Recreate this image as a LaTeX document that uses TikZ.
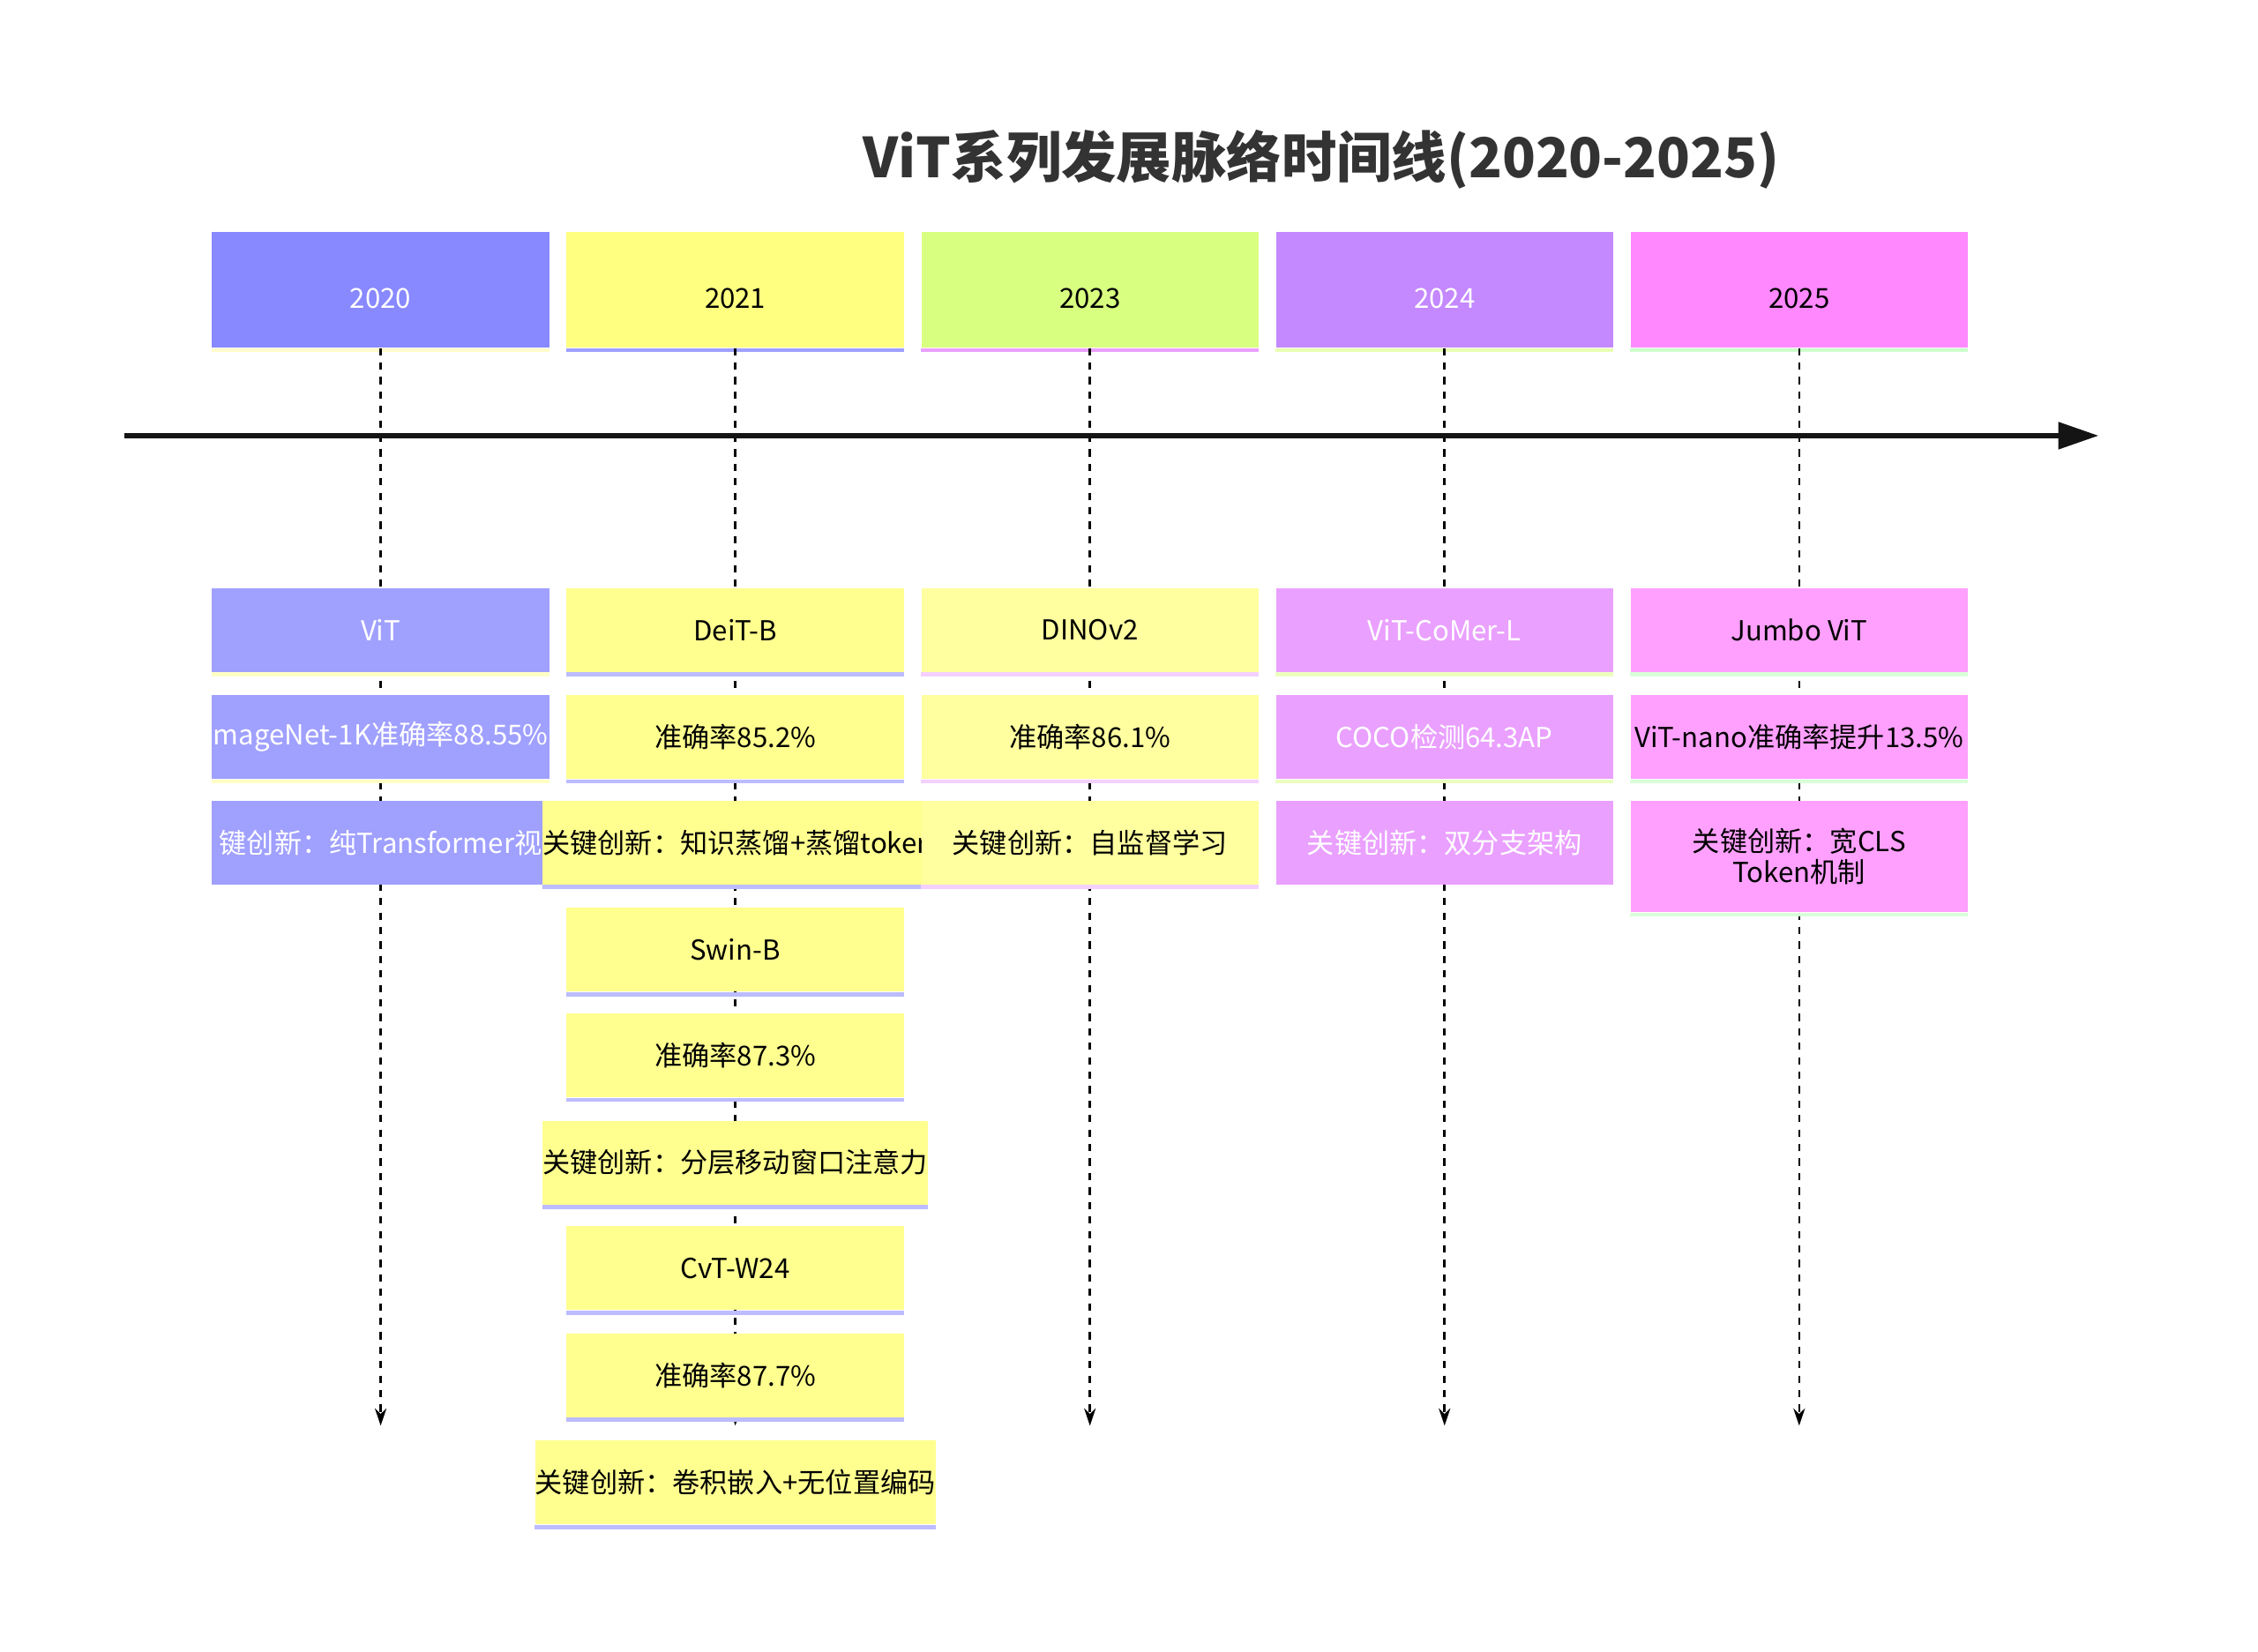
\documentclass[tikz,border=0pt]{standalone}
\usepackage{fontspec}
\setmainfont{Noto Sans CJK SC}
\usetikzlibrary{arrows.meta,positioning}
\definecolor{yrA}{HTML}{8888FF}
\definecolor{yrB}{HTML}{FFFF80}
\definecolor{yrC}{HTML}{D9FF80}
\definecolor{yrD}{HTML}{C488FF}
\definecolor{yrE}{HTML}{FF88FF}
\definecolor{evA}{HTML}{A0A0FF}
\definecolor{evB}{HTML}{FFFF90}
\definecolor{evC}{HTML}{FFFFA0}
\definecolor{evD}{HTML}{EAA0FF}
\definecolor{evE}{HTML}{FFA0FF}
\definecolor{title}{HTML}{333333}
\tikzset{
  yearbox/.style={fill=#1,minimum width=233pt,minimum height=80pt,inner sep=0pt,
    font=\fontsize{19}{22}\selectfont,anchor=north,text depth=0pt},
  evbox/.style={fill=#1,minimum width=233pt,minimum height=58pt,inner sep=0pt,
    font=\fontsize{19}{22}\selectfont,anchor=north,align=center},
  timeline/.style={dashed,line width=1.6pt,dash pattern=on 5pt off 5pt,-{Stealth[length=12pt,width=8pt]}},
}
\newcommand{\stripe}[2]{\fill[#2] (#1.south west) rectangle ([yshift=-3pt]#1.south east);}
\begin{document}
\begin{tikzpicture}[x=1pt,y=-1pt]
\useasboundingbox[fill=white] (0,0) rectangle (1560,1141);
\node[font=\bfseries\fontsize{38}{44}\selectfont,text=title] (title) at (913,110) {ViT系列发展脉络时间线(2020-2025)};
% year headers
\node[yearbox=yrA,text=white,text height=26pt] (yA) at (263,160) {2020};
\node[yearbox=yrB,text height=26pt] (yB) at (508,160) {2021};
\node[yearbox=yrC,text height=26pt] (yC) at (753,160) {2023};
\node[yearbox=yrD,text=white,text height=26pt] (yD) at (998,160) {2024};
\node[yearbox=yrE,text height=26pt] (yE) at (1243,160) {2025};
\stripe{yA}{yellow!20}
\stripe{yB}{evA}
\stripe{yC}{evD}
\stripe{yD}{yrC!60}
\stripe{yE}{green!20}
% dashed verticals
\foreach \n/\x in {A/263,B/508,C/753,D/998,E/1243}{
  \coordinate (end\n) at (\x,985);
  \draw[timeline] (y\n.south) -- (end\n);
}
% main axis
\coordinate (axL) at (86,301);
\coordinate (axR) at (1450,301);
\draw[line width=4pt,-{Triangle[length=28pt,width=18pt]},title!40!black] (axL) -- (axR);
% 2020
\node[evbox=evA,text=white] (vit) at (263,406) {ViT};
\node[evbox=evA,text=white] (vitacc) at (263,480) {mageNet-1K准确率88.55\%};
\node[evbox=evA,text=white] (vitkey) at (263,553) {键创新：纯Transformer视};
\stripe{vit}{evC!60}
\stripe{vitacc}{evC!60}
% 2021
\node[evbox=evB] (deit) at (508,406) {DeiT-B};
\node[evbox=evB] (deitacc) at (508,480) {准确率85.2\%};
\node[evbox=evB] (deitkey) at (508,553) {关键创新：知识蒸馏+蒸馏toker};
\node[evbox=evB] (swin) at (508,627) {Swin-B};
\node[evbox=evB] (swinacc) at (508,700) {准确率87.3\%};
\node[evbox=evB] (swinkey) at (508,774) {关键创新：分层移动窗口注意力};
\node[evbox=evB] (cvt) at (508,847) {CvT-W24};
\node[evbox=evB] (cvtacc) at (508,921) {准确率87.7\%};
\node[evbox=evB] (cvtkey) at (508,995) {关键创新：卷积嵌入+无位置编码};
\foreach \n in {deit,deitacc,deitkey,swin,swinacc,swinkey,cvt,cvtacc,cvtkey}{\stripe{\n}{evA!70}}
% 2023
\node[evbox=evC] (dino) at (753,406) {DINOv2};
\node[evbox=evC] (dinoacc) at (753,480) {准确率86.1\%};
\node[evbox=evC] (dinokey) at (753,553) {关键创新：自监督学习};
\foreach \n in {dino,dinoacc,dinokey}{\stripe{\n}{evD!50}}
% 2024
\node[evbox=evD,text=white] (comer) at (998,406) {ViT-CoMer-L};
\node[evbox=evD,text=white] (comeracc) at (998,480) {COCO检测64.3AP};
\node[evbox=evD,text=white] (comerkey) at (998,553) {关键创新：双分支架构};
\foreach \n in {comer,comeracc}{\stripe{\n}{yrC!50}}
% 2025
\node[evbox=evE] (jumbo) at (1243,406) {Jumbo ViT};
\node[evbox=evE] (jumboacc) at (1243,480) {ViT-nano准确率提升13.5\%};
\node[evbox=evE,minimum height=77pt,font=\fontsize{19}{21}\selectfont] (jumbokey) at (1243,553) {关键创新：宽CLS\\Token机制};
\foreach \n in {jumbo,jumboacc,jumbokey}{\stripe{\n}{green!15}}
\end{tikzpicture}
\end{document}
